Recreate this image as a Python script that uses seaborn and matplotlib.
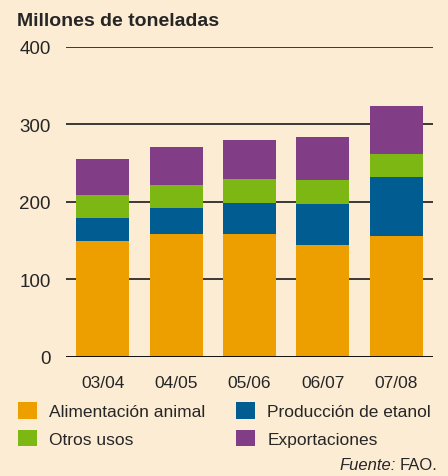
import numpy as np
import pandas as pd
import matplotlib
matplotlib.use("Agg")
import matplotlib.pyplot as plt
import seaborn as sns
from matplotlib.patches import Patch

campanas = ["03/04", "04/05", "05/06", "06/07", "07/08"]
alimentacion = [149.5, 158.5, 158.5, 144.5, 156]
etanol = [29.5, 33.5, 40, 53, 76]
otros = [30, 30, 31, 31, 30]
exportaciones = [46, 48, 50.5, 55.5, 62]

series = ["Alimentación animal", "Producción de etanol", "Otros usos", "Exportaciones"]
colores = ["#EE9F00", "#005C91", "#7DB713", "#813E86"]
fondo = "#FCECD4"

sns.set_theme(style="white")
plt.rcParams["font.family"] = ["Liberation Sans", "DejaVu Sans"]

df = pd.DataFrame({
    "campana": campanas,
    series[0]: alimentacion,
    series[1]: etanol,
    series[2]: otros,
    series[3]: exportaciones,
})
# cumulative tops so the bars can be layered from the tallest down
acum = df[series].cumsum(axis=1)

fig = plt.figure(figsize=(4.48, 4.77), dpi=100, facecolor=fondo)
ax = fig.add_axes([0.1473, 0.2501, 0.8192, 0.6499], facecolor=fondo)

for y in [100, 200, 300, 400]:
    ax.axhline(y, color="#1a1a1a", lw=1.2, zorder=0)

for serie, color in reversed(list(zip(series, colores))):
    sns.barplot(x=df["campana"], y=acum[serie], color=color, width=0.72,
                saturation=1, linewidth=0, ax=ax, zorder=2)

ax.axhline(0, color="black", lw=1.3, zorder=3)
ax.set_ylim(0, 400)
ax.set_xlim(-0.5, 4.5)
ax.set_yticks([0, 100, 200, 300, 400])
ax.set_xlabel("")
ax.set_ylabel("")
ax.tick_params(axis="y", length=0, pad=11, labelsize=13.5)
ax.tick_params(axis="x", length=0, pad=13.5, labelsize=12.5)
for s in ax.spines.values():
    s.set_visible(False)

fig.text(17 / 448, 1 - 21 / 477, "Millones de toneladas", fontsize=14,
         fontweight="bold", va="center", ha="left")

orden = [0, 2, 1, 3]
handles = [Patch(facecolor=colores[i], edgecolor="none") for i in orden]
labels = [series[i] for i in orden]
fig.legend(handles, labels, ncol=2, loc="upper left",
           bbox_to_anchor=(18 / 448, 1 - 403 / 477), frameon=False,
           fontsize=12.5, handlelength=1.1, handleheight=1.1,
           handletextpad=0.7, columnspacing=1.75, labelspacing=0.6,
           borderaxespad=0, borderpad=0)

fig.text(437 / 448, 1 - 466 / 477, "FAO.", fontsize=12, ha="right", va="center")
fig.text(437 / 448 - 0.092, 1 - 466 / 477, "Fuente:", fontsize=12,
         ha="right", va="center", style="italic")

fig.savefig("out.png", dpi=100, facecolor=fondo)
